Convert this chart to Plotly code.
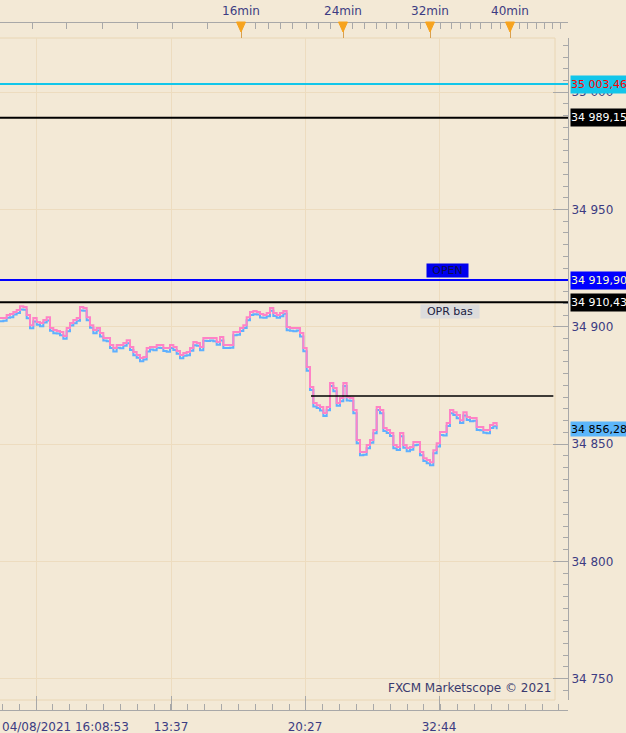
import plotly.graph_objects as go

# ---------------- data ----------------
ask = [34903.7, 34903.7, 34905.0, 34905.4, 34906.3, 34907.1, 34908.8, 34908.4, 34905.0, 34900.7,
       34903.7, 34902.0, 34901.6, 34902.9, 34904.1, 34899.5, 34898.6, 34898.2, 34897.8, 34896.1,
       34899.5, 34901.6, 34902.9, 34903.7, 34908.4, 34908.0, 34904.1, 34900.7, 34898.6, 34899.5,
       34897.3, 34895.2, 34895.2, 34892.2, 34890.9, 34892.2, 34892.2, 34893.1, 34894.3, 34891.4,
       34889.2, 34888.0, 34886.7, 34887.1, 34890.9, 34891.4, 34891.4, 34892.2, 34892.2, 34890.9,
       34890.9, 34892.2, 34891.4, 34889.7, 34888.0, 34888.8, 34889.2, 34890.9, 34893.5, 34893.1,
       34891.4, 34895.2, 34895.2, 34895.2, 34895.2, 34893.5, 34895.6, 34892.2, 34892.2, 34892.2,
       34897.8, 34897.8, 34899.5, 34900.7, 34904.1, 34906.3, 34906.7, 34906.3, 34905.4, 34905.0,
       34905.9, 34908.0, 34905.9, 34905.0, 34905.9, 34906.7, 34899.9, 34899.5, 34899.5, 34899.5,
       34897.3, 34890.9, 34882.8, 34874.3, 34867.5, 34866.6, 34865.8, 34863.2, 34865.8, 34876.0,
       34873.9, 34867.5, 34869.6, 34876.0, 34870.0, 34869.6, 34864.5, 34851.7, 34846.6, 34846.6,
       34849.6, 34851.7, 34856.0, 34865.8, 34864.5, 34856.8, 34856.0, 34854.7, 34849.6, 34848.7,
       34854.7, 34849.6, 34848.3, 34848.7, 34850.9, 34850.9, 34846.6, 34844.0, 34843.2, 34842.3,
       34847.4, 34850.4, 34855.1, 34855.1, 34859.0, 34864.5, 34863.6, 34862.4, 34860.2, 34863.6,
       34861.5, 34861.1, 34861.1, 34857.3, 34857.3, 34856.0, 34856.0, 34858.1, 34859.0, 34857.6]

bid = [34902.4, 34902.6, 34903.9, 34904.1, 34905.2, 34905.9, 34907.4, 34907.3, 34903.6, 34899.4,
       34902.3, 34900.9, 34900.2, 34901.8, 34902.7, 34898.3, 34897.2, 34897.1, 34896.4, 34894.9,
       34898.1, 34900.5, 34901.5, 34902.6, 34906.9, 34906.8, 34902.8, 34899.6, 34897.2, 34898.4,
       34895.9, 34894.1, 34893.8, 34891.0, 34889.5, 34891.1, 34890.8, 34891.9, 34893.0, 34890.1,
       34887.9, 34886.8, 34885.3, 34886.0, 34889.5, 34890.3, 34890.0, 34891.1, 34890.9, 34889.7,
       34889.4, 34891.0, 34890.1, 34888.5, 34886.6, 34887.7, 34887.9, 34889.8, 34892.1, 34891.9,
       34890.0, 34894.0, 34893.9, 34894.1, 34893.8, 34892.3, 34894.2, 34891.0, 34890.9, 34891.1,
       34896.4, 34896.6, 34898.2, 34899.5, 34902.8, 34905.0, 34905.3, 34905.2, 34904.0, 34903.9,
       34904.5, 34906.8, 34904.6, 34903.8, 34904.5, 34905.6, 34898.5, 34898.3, 34898.1, 34898.4,
       34895.9, 34889.6, 34881.3, 34873.1, 34866.0, 34865.4, 34864.3, 34862.0, 34864.4, 34874.7,
       34872.5, 34866.3, 34868.2, 34874.8, 34868.6, 34868.5, 34863.1, 34850.4, 34845.2, 34845.4,
       34848.2, 34850.6, 34854.6, 34864.5, 34863.1, 34855.6, 34854.7, 34853.4, 34848.2, 34847.5,
       34853.3, 34848.4, 34846.9, 34847.6, 34849.5, 34849.7, 34845.2, 34842.8, 34841.8, 34841.0,
       34846.1, 34849.0, 34853.9, 34853.7, 34857.7, 34863.1, 34862.4, 34861.0, 34859.0, 34862.2,
       34860.3, 34859.7, 34859.9, 34856.0, 34855.9, 34854.8, 34854.6, 34856.9, 34857.6, 34856.28]

ticks_idx = list(range(len(ask)))

# horizontal level lines: value, colour, label text, label bg, label fg
levels = [35003.46, 34989.15, 34919.90, 34910.43]
level_colors = ["#12c6ea", "#000000", "#0000ff", "#000000"]
level_labels = ["35 003,46", "34 989,15", "34 919,90", "34 910,43"]
level_label_bg = ["#12c6ea", "#000000", "#0000ff", "#000000"]
level_label_fg = ["#ff0000", "#ffffff", "#ffffc8", "#ffffff"]

last_price = 34856.28
last_label = "34 856,28"

thin_level = 34870.5
thin_start, thin_end = 93.3, 166.0

# axes
y_range = [34740.9, 35023.1]
x_range = [0, 170.4]
y_tickvals = [34750, 34800, 34850, 34900, 34950, 35000]
y_ticktext = ["34 750", "34 800", "34 850", "34 900", "34 950", "35 000"]

bottom_tickvals = [10.8, 51.3, 91.5, 131.7]
bottom_ticktext = ["", "13:37", "20:27", "32:44"]
date_label = "04/08/2021 16:08:53"

top_tickvals = [72.3, 102.9, 129.0, 153.0]
top_ticktext = ["16min", "24min", "32min", "40min"]
top_minor = [9.6, 19.8, 30.6, 41.1, 51.6, 62.1, 76.5, 80.4, 84.0, 87.6, 91.8, 95.4, 99.0,
             105.6, 109.2, 112.8, 115.8, 118.8, 122.4, 126.0, 132.0, 135.3, 138.0, 141.0,
             144.0, 147.3, 150.0, 155.7, 158.1, 160.8, 163.2, 165.6, 168.0]

# ---------------- figure ----------------
BG = "#f3e9d6"
GRID = "#eddcbf"
AXC = "#a8a8a8"
TXT = "#3c3c82"
FONT = "DejaVu Sans"

fig = go.Figure()
fig.add_trace(go.Scatter(x=ticks_idx, y=bid, mode="lines", line=dict(color="#5eb0ff", width=2, shape="hv"),
                         showlegend=False, hoverinfo="skip"))
fig.add_trace(go.Scatter(x=ticks_idx, y=ask, mode="lines", line=dict(color="#ff82c6", width=2, shape="hv"),
                         showlegend=False, hoverinfo="skip"))
# invisible trace on top axis so it renders
fig.add_trace(go.Scatter(x=[x_range[0]], y=[y_range[0]], xaxis="x2", mode="markers",
                         marker=dict(opacity=0), showlegend=False, hoverinfo="skip"))

ydom = [10 / 688, 672 / 688]

fig.update_layout(
    width=626, height=733,
    margin=dict(l=0, r=58, t=22, b=23, autoexpand=False),
    paper_bgcolor=BG, plot_bgcolor=BG,
    font=dict(family=FONT, size=12, color=TXT),
    xaxis=dict(range=x_range, domain=[0, 1], anchor="free", position=0,
               showline=True, linecolor=AXC, linewidth=1,
               tickmode="array", tickvals=bottom_tickvals, ticktext=bottom_ticktext,
               ticks="inside", ticklen=14, tickcolor=AXC, ticklabelstandoff=6,
               minor=dict(tickmode="linear", tick0=bottom_tickvals[0], dtick=5.06,
                          ticks="inside", ticklen=6, tickcolor=AXC, showgrid=False),
               showgrid=True, gridcolor=GRID, gridwidth=1, zeroline=False,
               tickfont=dict(family=FONT, size=12, color=TXT)),
    xaxis2=dict(range=x_range, overlaying="x", anchor="free", position=1, side="top",
                showline=True, linecolor=AXC, linewidth=1,
                tickmode="array", tickvals=top_tickvals, ticktext=top_ticktext,
                ticks="inside", ticklen=15, tickcolor="#d8a050", ticklabelstandoff=2,
                minor=dict(tickmode="array", tickvals=top_minor, ticks="inside", ticklen=6,
                           tickcolor=AXC, showgrid=False),
                showgrid=False, zeroline=False,
                tickfont=dict(family=FONT, size=12, color=TXT)),
    yaxis=dict(range=y_range, domain=ydom, side="right", anchor="x",
               showline=True, linecolor=AXC, linewidth=1,
               tickmode="array", tickvals=y_tickvals, ticktext=y_ticktext,
               ticks="inside", ticklen=15, tickcolor=AXC,
               minor=dict(tickmode="linear", tick0=34750, dtick=5, ticks="inside", ticklen=5,
                          tickcolor=AXC, showgrid=False),
               showgrid=True, gridcolor=GRID, gridwidth=1, zeroline=False,
               tickfont=dict(family=FONT, size=12, color=TXT)),
)

shapes = []
# inner frame
shapes.append(dict(type="rect", xref="paper", yref="paper", x0=-0.01, x1=555 / 568, y0=ydom[0], y1=ydom[1],
                   line=dict(color="#e9d6b4", width=1), fillcolor="rgba(0,0,0,0)", layer="below"))
for v, c in zip(levels, level_colors):
    shapes.append(dict(type="line", xref="paper", yref="y", x0=0, x1=1, y0=v, y1=v,
                       line=dict(color=c, width=2)))
shapes.append(dict(type="line", xref="x", yref="y", x0=thin_start, x1=thin_end, y0=thin_level, y1=thin_level,
                   line=dict(color="#000000", width=1.5)))
# orange triangles on the top ruler
for tv in top_tickvals:
    shapes.append(dict(type="path", xref="x", yref="paper",
                       path=f"M {tv-1.35},1.0 L {tv+1.35},1.0 L {tv},{1-10/688} Z",
                       fillcolor="#f6a31e", line=dict(color="#f6a31e", width=1)))
fig.update_layout(shapes=shapes)

ann = []
for v, t, bg, fg in zip(levels, level_labels, level_label_bg, level_label_fg):
    ann.append(dict(xref="paper", yref="y", x=1, y=v, xanchor="left", yanchor="middle", xshift=2,
                    text=t, showarrow=False, bgcolor=bg, width=70, height=17, align="left",
                    font=dict(family=FONT, size=11, color=fg), borderpad=0))
ann.append(dict(xref="paper", yref="y", x=1, y=last_price, xanchor="left", yanchor="middle", xshift=2,
                text=last_label, showarrow=False, bgcolor="#5cb6fa", width=70, height=14, align="left",
                font=dict(family=FONT, size=11, color="#000000"), borderpad=0))
ann.append(dict(xref="x", yref="y", x=134.1, y=levels[2], yshift=10, text="OPEN", showarrow=False,
                bgcolor="#0000ee", width=41, height=13, font=dict(family=FONT, size=11, color="#10104a"),
                borderpad=0))
ann.append(dict(xref="x", yref="y", x=135.0, y=levels[3], yshift=-9.5, text="OPR bas", showarrow=False,
                bgcolor="#dcdcdc", width=58, height=13, font=dict(family=FONT, size=11, color="#202040"),
                borderpad=0))
ann.append(dict(xref="paper", yref="paper", x=553 / 568, y=(710 - 688) / 688, xanchor="right", yanchor="middle",
                text="FXCM Marketscope © 2021", showarrow=False,
                font=dict(family=FONT, size=12, color="#3a3a6e")))
ann.append(dict(xref="paper", yref="paper", x=0, y=-(727 - 710) / 688, xanchor="left", yanchor="middle",
                text=date_label, showarrow=False, font=dict(family=FONT, size=12, color=TXT)))
fig.update_layout(annotations=ann)

fig.write_html("out.html", config={"displayModeBar": False},
               post_script="document.body.style.margin='0px';document.body.style.background='" + BG + "';")
